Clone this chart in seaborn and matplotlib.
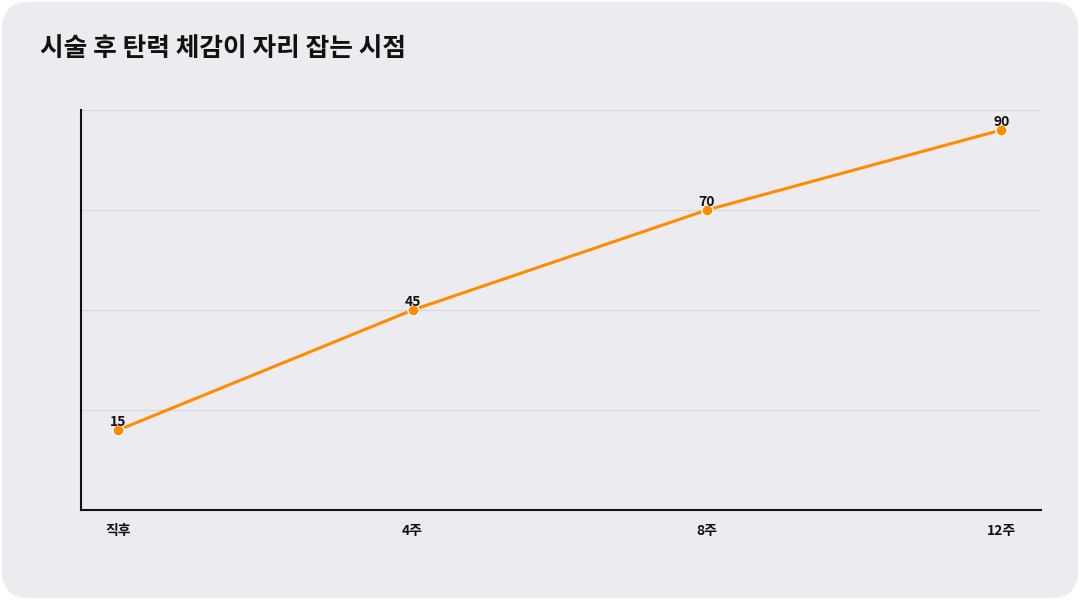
import numpy as np
import pandas as pd
import matplotlib
matplotlib.use('Agg')
import matplotlib.pyplot as plt
from matplotlib.patches import FancyBboxPatch
import seaborn as sns

# Data
periods = ['직후', '4주', '8주', '12주']
values = [15, 45, 70, 90]
title = '시술 후 탄력 체감이 자리 잡는 시점'

sns.set_theme(style='white')
plt.rcParams['font.family'] = ['Noto Sans CJK KR', 'DejaVu Sans']

bg = '#ECEBF0'
fig = plt.figure(figsize=(10.8, 6.0), dpi=100)
fig.patch.set_facecolor('white')
fig.patches.append(FancyBboxPatch((0.002, 0.003), 0.996, 0.994, boxstyle='round,pad=0,rounding_size=0.025',
                                  transform=fig.transFigure, facecolor=bg, edgecolor='none', zorder=-10,
                                  mutation_aspect=1.8))

ax = fig.add_axes([81/1080, 90/600, 960/1080, 400/600])
ax.set_facecolor(bg)

df = pd.DataFrame({'x': range(len(periods)), 'v': values})
sns.lineplot(data=df, x='x', y='v', ax=ax, color='#FF8C00', linewidth=2.2,
             marker='o', markersize=8, markeredgecolor='white', markeredgewidth=1)
for x, v in zip(df['x'], df['v']):
    ax.annotate(str(v), (x, v), xytext=(0, 1), textcoords='offset points',
                ha='center', va='bottom', fontsize=10, fontweight='bold', color='#111111')

ax.set_xlim(-0.127, 3.135)
ax.set_ylim(-5, 95)
ax.set_yticks([20, 45, 70, 95])
ax.set_yticklabels([])
ax.tick_params(axis='y', length=0)
ax.yaxis.grid(True, color='#D6D5DA', linewidth=0.8)
ax.set_xticks(range(len(periods)))
ax.set_xticklabels(periods, fontsize=10, fontweight='bold', color='#111111')
ax.tick_params(axis='x', length=0, pad=10)
ax.set_xlabel('')
ax.set_ylabel('')
for s in ['top', 'right']:
    ax.spines[s].set_visible(False)
for s in ['left', 'bottom']:
    ax.spines[s].set_color('#111111')
    ax.spines[s].set_linewidth(1.5)

fig.text(40/1080, 1 - 48/600, title, fontsize=18.5, fontweight='bold', color='#111111', va='center')

fig.savefig('out.png', dpi=100)
